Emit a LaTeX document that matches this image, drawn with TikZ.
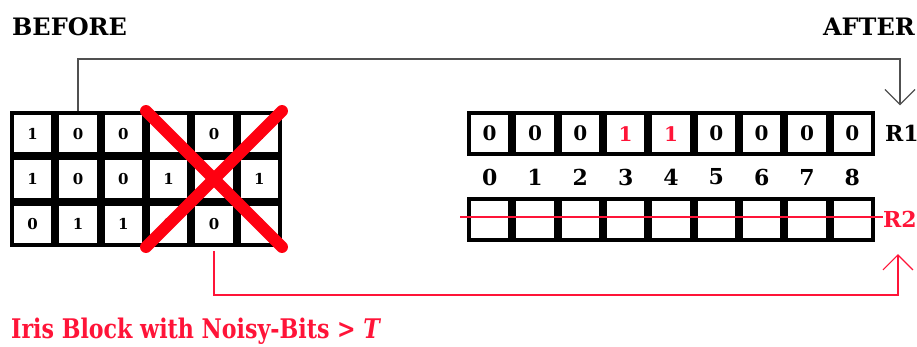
\documentclass[tikz,border=0pt]{standalone}
\usepackage{fontspec}
\setmainfont{DejaVu Serif}
\newfontfamily\notefont{DejaVu Serif}[FakeStretch=0.82]
\usetikzlibrary{arrows.meta, positioning}
\definecolor{irisred}{HTML}{FF1438}
\definecolor{crossred}{HTML}{FF0010}
\definecolor{linkgray}{HTML}{505050}

\begin{document}
\begin{tikzpicture}[
      x=1pt, y=-1pt,
      cell/.style={draw=black, line width=4pt, fill=white, minimum size=41.3pt,
                   inner sep=0pt, font=\fontsize{15}{15}\selectfont\bfseries},
      bigcell/.style={cell, font=\fontsize{20}{20}\selectfont\bfseries},
      lbl/.style={inner sep=0pt, font=\fontsize{22}{22}\selectfont\bfseries},
      head/.style={inner sep=0pt, font=\fontsize{24}{24}\selectfont\bfseries},
      link/.style={-{Straight Barb[length=15pt, width=30pt]}, line width=1.2pt}
   ]
      \useasboundingbox (0,0) rectangle (917,347);

      \node[head, anchor=west] (before) at (12,27) {BEFORE};
      \node[head, anchor=east] (after) at (915,27) {AFTER};

      % iris block before masking
      \foreach \r/\vals in {1/{1,0,0,{},0,1}, 2/{1,0,0,1,{},1}, 3/{0,1,1,0,0,0}} {
         \foreach \v [count=\c] in \vals
            \node[cell] (b\r\c) at ({32.67+45.33*(\c-1)}, {133.67+45.33*(\r-1)}) {\v};
      }
      \draw[crossred, line width=12pt, line cap=round] (b14.north west) -- (b36.south east);
      \draw[crossred, line width=12pt, line cap=round] (b16.north east) -- (b34.south west);

      % rows after
      \foreach \v/\col [count=\c] in {0/black,0/black,0/black,1/irisred,1/irisred,0/black,0/black,0/black,0/black} {
         \pgfmathtruncatemacro\idx{\c-1}
         \node[bigcell, text=\col] (a\c) at ({489.67+45.33*(\c-1)}, 133.67) {\v};
         \node[lbl] (i\c) at ({489.67+45.33*(\c-1)}, 177) {\idx};
         \node[cell] (e\c) at ({489.67+45.33*(\c-1)}, 219.67) {};
      }
      \node[lbl, right=10pt of a9] (R1) {R1};
      \node[lbl, text=irisred, right=8pt of e9] (R2) {R2};
      \draw[irisred, line width=1.3pt] ([xshift=-7pt, yshift=2.7pt]e1.west) -- ([yshift=2.7pt]R2.west);

      \draw[link, linkgray] (b12.north) -- ++(0,-52) -| ([xshift=-2pt]R1.north) [shorten >=20pt];
      \draw[link, irisred, shorten <=4pt] (b35.south) -- ++(0,48) -| ([xshift=-2pt]R2.south) [shorten >=26pt];

      \node[anchor=west, text=irisred, inner sep=0pt, font=\notefont\fontsize{27}{27}\selectfont\bfseries]
         (note) at (11,331) {Iris Block with Noisy-Bits > \textit{T}};
   \end{tikzpicture}
\end{document}
